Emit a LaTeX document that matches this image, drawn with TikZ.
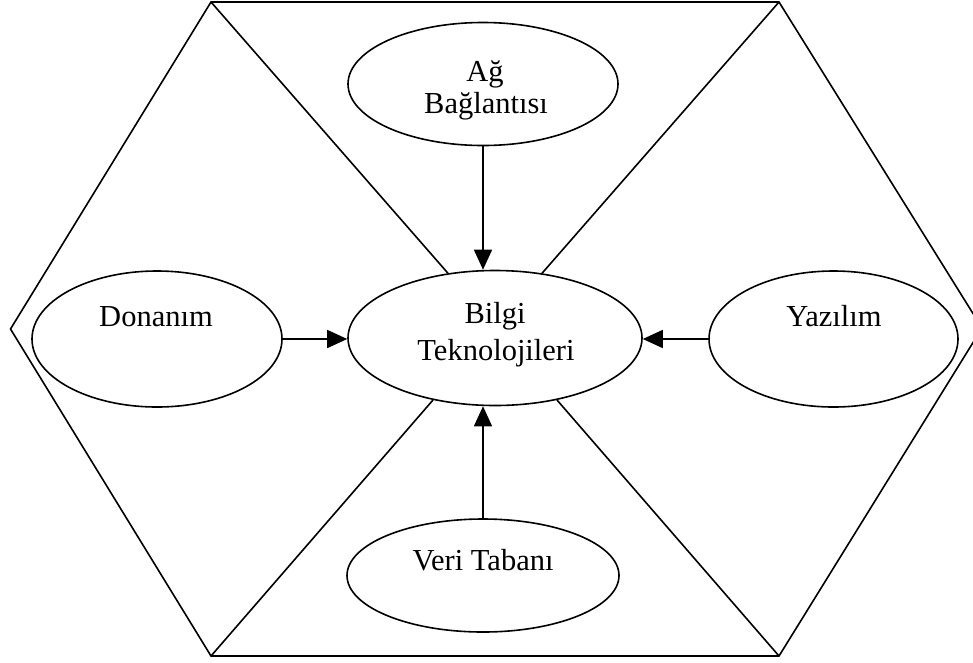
\documentclass[tikz,border=0pt]{standalone}
\usepackage{fontspec}
\setmainfont{Liberation Serif}
\usetikzlibrary{shapes.geometric,arrows.meta}
\begin{document}
\begin{tikzpicture}[x=1pt,y=-1pt,
  oval/.style={ellipse,draw,line width=1.6pt,inner sep=0pt},
  lbl/.style={font=\fontsize{30.5}{36}\selectfont,anchor=base,inner sep=0pt},
  rim/.style={line width=1.6pt,line join=miter},
  feed/.style={line width=1.6pt,-{Triangle[length=20pt,width=18pt]}}]
\useasboundingbox (0,0) rectangle (973,662);

% hexagon frame
\coordinate (tl) at (211,2);
\coordinate (tr) at (779,2);
\coordinate (rt) at (982,328);
\coordinate (br) at (779,656);
\coordinate (bl) at (211,656);
\coordinate (lf) at (10.5,329);
\draw[rim] (tl) -- (tr) -- (rt) -- (br) -- (bl) -- (lf) -- cycle;

% components
\node[oval,minimum width=294pt,minimum height=135pt] (bilgi) at (495,338) {};
\node[oval,minimum width=270pt,minimum height=123pt] (ag) at (483,84) {};
\node[oval,minimum width=250pt,minimum height=136pt] (donanim) at (157,339) {};
\node[oval,minimum width=249pt,minimum height=136pt] (yazilim) at (833.5,339) {};
\node[oval,minimum width=272pt,minimum height=113pt] (veri) at (483,575.5) {};

% labels
\node[lbl] (tBilgi) at (495,323) {Bilgi};
\node[lbl] (tTekno) at (496,360) {Teknolojileri};
\node[lbl] (tAg) at (485,81) {Ağ};
\node[lbl] (tBag) at (486,113) {Bağlantısı};
\node[lbl] (tDon) at (156,326) {Donanım};
\node[lbl] (tYaz) at (834,326) {Yazılım};
\node[lbl] (tVeri) at (483,570) {Veri Tabanı};

% spokes from the frame corners to the centre
\draw[rim] (tl) -- (bilgi.126);
\draw[rim] (tr) -- (bilgi.54);
\draw[rim] (bl) -- (bilgi.225);
\draw[rim] (br) -- (bilgi.315);

% inputs to the centre
\draw[feed] (ag.south) -- (ag.south |- bilgi.north);
\draw[feed] (veri.north) -- (veri.north |- bilgi.south);
\draw[feed] (donanim.east) -- (donanim.east -| bilgi.west);
\draw[feed] (yazilim.west) -- (yazilim.west -| bilgi.east);
\end{tikzpicture}
\end{document}
